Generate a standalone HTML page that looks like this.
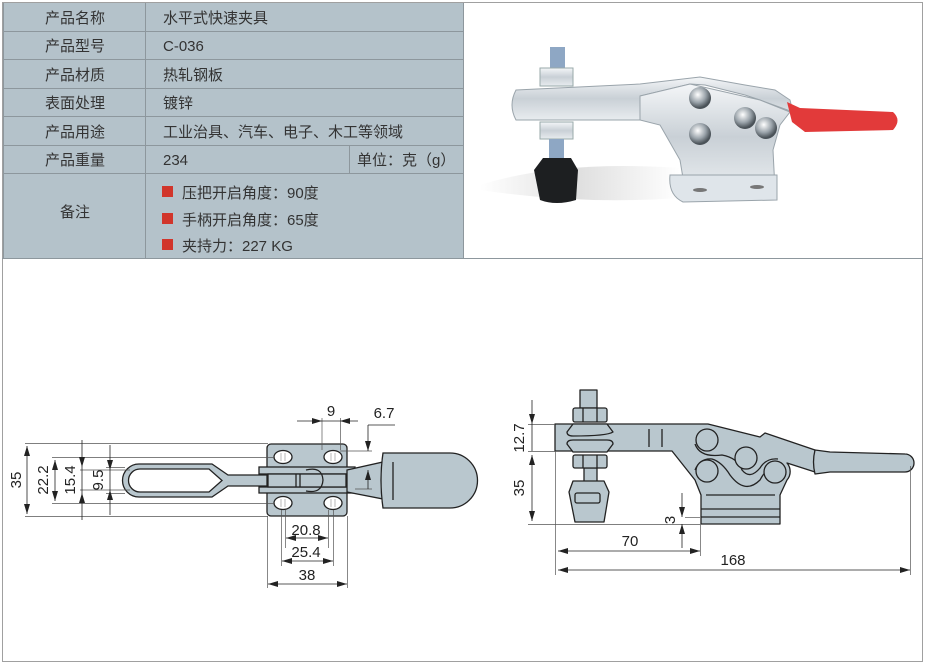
<!DOCTYPE html>
<html><head><meta charset="utf-8"><style>
html,body{margin:0;padding:0;background:#fff;}
svg{display:block;}
text{font-family:"Liberation Sans","Noto Sans CJK SC",sans-serif;}
</style></head><body>
<svg width="926" height="665" viewBox="0 0 926 665" xmlns="http://www.w3.org/2000/svg">
<defs>
<linearGradient id="met" x1="0" y1="0" x2="0" y2="1"><stop offset="0" stop-color="#f4f6f8"/><stop offset="0.5" stop-color="#c9d0d6"/><stop offset="1" stop-color="#e8ecef"/></linearGradient>
<radialGradient id="ball" cx="0.4" cy="0.35" r="0.6"><stop offset="0" stop-color="#fff"/><stop offset="0.6" stop-color="#9aa3aa"/><stop offset="1" stop-color="#4a5258"/></radialGradient>
<linearGradient id="shadow" x1="0" y1="0" x2="1" y2="0"><stop offset="0" stop-color="#fff"/><stop offset="0.5" stop-color="#d8d8d8"/><stop offset="1" stop-color="#fff"/></linearGradient>
<marker id="ar" viewBox="0 0 10 6" refX="10" refY="3" markerWidth="10" markerHeight="6" orient="auto-start-reverse" markerUnits="userSpaceOnUse"><path d="M0,0 L10,3 L0,6 z" fill="#222"/></marker>
</defs>
<rect x="2.5" y="2.5" width="920" height="659" fill="#fff" stroke="#a0a0a0"/>
<rect x="3" y="3" width="460" height="255" fill="#b4c2ca"/>
<g stroke="#8d979d" stroke-width="1">
<line x1="3" y1="31.5" x2="463" y2="31.5"/><line x1="3" y1="59.5" x2="463" y2="59.5"/><line x1="3" y1="88.5" x2="463" y2="88.5"/><line x1="3" y1="116.5" x2="463" y2="116.5"/><line x1="3" y1="145.5" x2="463" y2="145.5"/><line x1="3" y1="173.5" x2="463" y2="173.5"/>
<line x1="145.5" y1="3" x2="145.5" y2="258"/><line x1="349.5" y1="145" x2="349.5" y2="173"/>
<line x1="463.5" y1="3" x2="463.5" y2="258"/><line x1="3.5" y1="3" x2="3.5" y2="258"/>
<line x1="2" y1="258.5" x2="923" y2="258.5"/>
</g>
<g font-size="15" fill="#333">
<text x="75" y="23" text-anchor="middle">产品名称</text>
<text x="75" y="51" text-anchor="middle">产品型号</text>
<text x="75" y="80" text-anchor="middle">产品材质</text>
<text x="75" y="108" text-anchor="middle">表面处理</text>
<text x="75" y="137" text-anchor="middle">产品用途</text>
<text x="75" y="165" text-anchor="middle">产品重量</text>
<text x="75" y="217" text-anchor="middle">备注</text>
<text x="163" y="23">水平式快速夹具</text>
<text x="163" y="51">C-036</text>
<text x="163" y="80">热轧钢板</text>
<text x="163" y="108">镀锌</text>
<text x="163" y="137">工业治具、汽车、电子、木工等领域</text>
<text x="163" y="165">234</text>
<text x="357" y="165">单位：克（g）</text>
<text x="182" y="198">压把开启角度：90度</text>
<text x="182" y="225">手柄开启角度：65度</text>
<text x="182" y="251">夹持力：227 KG</text>
</g>
<g fill="#d1352b"><rect x="162" y="186" width="11" height="11"/><rect x="162" y="213" width="11" height="11"/><rect x="162" y="239" width="11" height="11"/></g>
<!-- photo -->
<path d="M480,185 Q560,160 680,168 L680,198 Q580,205 480,190z" fill="url(#shadow)" opacity="0.8"/>
<rect x="550" y="47" width="15" height="22" fill="#8ea7c4"/>
<rect x="540" y="68" width="33" height="18" fill="url(#met)" stroke="#9aa"/>
<path d="M516,90 L640,84 L700,77 L745,85 L775,90 L790,100 L793,112 L760,100 L745,95 L705,85 L690,84 L640,96 L640,120 L516,120 Q508,105 516,90z" fill="url(#met)" stroke="#9aa4ab"/>
<path d="M640,96 L690,84 L760,100 L790,112 L780,125 L773,150 L775,190 L685,190 L680,160 L660,125 L640,120z" fill="url(#met)" stroke="#9aa4ab"/>
<path d="M670,175 L777,175 L777,200 L683,202 Q668,195 670,175z" fill="#dfe5ea" stroke="#9aa4ab"/>
<ellipse cx="700" cy="190" rx="7" ry="2" fill="#777"/><ellipse cx="757" cy="187" rx="7" ry="2" fill="#777"/>
<circle cx="700" cy="98" r="11" fill="url(#ball)"/><circle cx="745" cy="118" r="11" fill="url(#ball)"/>
<circle cx="700" cy="134" r="11" fill="url(#ball)"/><circle cx="766" cy="128" r="11" fill="url(#ball)"/>
<path d="M787,102 L800,108 L893,112 Q902,120 893,130 L805,132 L792,122z" fill="#e23a3a"/>
<rect x="540" y="122" width="33" height="17" fill="url(#met)" stroke="#9aa"/>
<rect x="549" y="139" width="15" height="20" fill="#8ea7c4"/>
<path d="M543,158 L571,158 L578,170 L576,200 Q556,206 540,200 L534,170z" fill="#1d1f21"/>
<!-- top view -->
<g stroke="#222" stroke-width="1.3" fill="#b9c7ce">
<path d="M139,464 L212,464 L228,475 L300,475 L300,486 L228,486 L212,497 L139,497 A16.5,16.5 0 0 1 139,464z"/>
<path d="M140,469 L209,469 L222,480.5 L209,492 L140,492 A11.5,11.5 0 0 1 140,469z" fill="#fff"/>
<rect x="267" y="444" width="80" height="72" rx="4"/>
<rect x="259" y="467" width="96" height="7"/>
<rect x="259" y="487" width="96" height="6"/>
<rect x="268" y="474" width="78" height="13"/>
<line x1="296" y1="474" x2="296" y2="487"/><line x1="300" y1="474" x2="300" y2="487"/>
<path d="M306,470 Q322,466 323,480 Q322,494 306,491" fill="none"/>
<path d="M347,470 L383,462 L383,499 L347,492z"/>
<path d="M383,453 L450,453 A27.5,27.5 0 0 1 450,508 L383,508 Q379,480 383,453z"/>
<line x1="393" y1="462" x2="393" y2="500"/>
<g fill="#fff">
<ellipse cx="283" cy="457" rx="9" ry="6.5"/><ellipse cx="333" cy="457" rx="9" ry="6.5"/>
<ellipse cx="283" cy="503" rx="9" ry="6.5"/><ellipse cx="333" cy="503" rx="9" ry="6.5"/>
</g>
</g>
<g stroke="#888" stroke-width="0.6" fill="none">
<line x1="281" y1="453" x2="281" y2="461"/><line x1="285" y1="453" x2="285" y2="461"/><line x1="331" y1="453" x2="331" y2="461"/><line x1="335" y1="453" x2="335" y2="461"/>
<line x1="281" y1="499" x2="281" y2="507"/><line x1="285" y1="499" x2="285" y2="507"/><line x1="331" y1="499" x2="331" y2="507"/><line x1="335" y1="499" x2="335" y2="507"/>
</g>
<g stroke="#555" stroke-width="0.7" fill="none">
<line x1="25" y1="443.5" x2="268" y2="443.5"/><line x1="25" y1="516.5" x2="268" y2="516.5"/>
<line x1="52" y1="457.5" x2="275" y2="457.5"/><line x1="52" y1="503.5" x2="275" y2="503.5"/>
<line x1="80" y1="470" x2="130" y2="470"/><line x1="80" y1="490" x2="130" y2="490"/>
<line x1="106" y1="467.5" x2="125" y2="467.5"/><line x1="106" y1="493.5" x2="125" y2="493.5"/>
<line x1="322" y1="418" x2="322" y2="450"/><line x1="340.5" y1="418" x2="340.5" y2="450"/>
<line x1="340" y1="451" x2="372" y2="451"/><line x1="355" y1="489" x2="372" y2="489"/>
<line x1="285.5" y1="510" x2="285.5" y2="548"/><line x1="328.5" y1="510" x2="328.5" y2="548"/>
<line x1="281.5" y1="510" x2="281.5" y2="566"/><line x1="333.5" y1="510" x2="333.5" y2="566"/>
<line x1="267.5" y1="516" x2="267.5" y2="588"/><line x1="347.5" y1="516" x2="347.5" y2="588"/>
</g>
<g stroke="#222" stroke-width="0.8" fill="none">
<line x1="27" y1="446" x2="27" y2="514" marker-start="url(#ar)" marker-end="url(#ar)"/>
<line x1="55" y1="460" x2="55" y2="501" marker-start="url(#ar)" marker-end="url(#ar)"/>
<line x1="82" y1="440" x2="82" y2="467" marker-end="url(#ar)"/><line x1="82" y1="520" x2="82" y2="493" marker-end="url(#ar)"/><line x1="82" y1="467" x2="82" y2="493"/>
<line x1="110" y1="445" x2="110" y2="470" marker-end="url(#ar)"/><line x1="110" y1="515" x2="110" y2="490" marker-end="url(#ar)"/><line x1="110" y1="470" x2="110" y2="490"/>
<line x1="297" y1="421" x2="322" y2="421" marker-end="url(#ar)"/><line x1="358" y1="421" x2="340" y2="421" marker-end="url(#ar)"/><line x1="322" y1="421" x2="340" y2="421"/>
<line x1="368" y1="425" x2="395" y2="425"/>
<line x1="368" y1="425" x2="368" y2="451" marker-end="url(#ar)"/><line x1="368" y1="489" x2="368" y2="470" marker-end="url(#ar)"/>
<line x1="286" y1="538" x2="328" y2="538" marker-start="url(#ar)" marker-end="url(#ar)"/>
<line x1="282" y1="561" x2="333" y2="561" marker-start="url(#ar)" marker-end="url(#ar)"/>
<line x1="268" y1="584" x2="347" y2="584" marker-start="url(#ar)" marker-end="url(#ar)"/>
</g>
<g font-size="15" fill="#222">
<text x="25" y="480" text-anchor="middle" transform="rotate(-90 25 480)" dy="-4">35</text>
<text x="52" y="480" text-anchor="middle" transform="rotate(-90 52 480)" dy="-4">22.2</text>
<text x="79" y="480" text-anchor="middle" transform="rotate(-90 79 480)" dy="-4">15.4</text>
<text x="107" y="480" text-anchor="middle" transform="rotate(-90 107 480)" dy="-4">9.5</text>
<text x="331" y="416" text-anchor="middle">9</text>
<text x="384" y="418" text-anchor="middle">6.7</text>
<text x="306" y="535" text-anchor="middle">20.8</text>
<text x="306" y="557" text-anchor="middle">25.4</text>
<text x="307" y="580" text-anchor="middle">38</text>
</g>
<!-- side view -->
<g stroke="#222" stroke-width="1.3" fill="#b9c7ce" stroke-linejoin="round">
<rect x="580" y="390" width="17" height="18"/>
<rect x="573" y="408" width="34" height="14" rx="2"/>
<line x1="583" y1="408" x2="583" y2="422"/><line x1="597" y1="408" x2="597" y2="422"/>
<rect x="584" y="468" width="13" height="25"/>
<path d="M555,424 L708,424 L760,437 L765,433 L815,450 L815,472 L787,463 A13,13 0 0 1 787,480 L780,495 L780,524 L701,524 L701,495 L695,480 L672,451 L555,451z"/>
<line x1="706" y1="495" x2="775" y2="495"/>
<line x1="701" y1="509" x2="780" y2="509"/><line x1="701" y1="517" x2="780" y2="517"/>
<path d="M695,444 Q700,458 722,455 Q738,458 742,470 Q750,480 760,468 Q766,458 778,459" fill="none"/>
<path d="M695,470 Q700,458 712,459 Q722,462 730,475 Q745,495 760,480 Q768,465 780,463" fill="none"/>
<circle cx="707" cy="440" r="11"/><circle cx="746" cy="458" r="11"/>
<circle cx="707" cy="471" r="11"/><circle cx="775" cy="472" r="11"/>
<path d="M815,450 L830,452 L905,454 A9,9 0 0 1 905,472 L830,472 L815,474 Q812,462 815,450z"/>
<path d="M567,432 L573,424 L607,424 L613,432 Q607,436 573,436 Q567,436 567,432z"/>
<path d="M567,444 Q567,440 573,440 L607,440 Q613,440 613,444 L607,452 L573,452z"/>
<rect x="573" y="455" width="34" height="13" rx="2"/>
<line x1="583" y1="455" x2="583" y2="468"/><line x1="597" y1="455" x2="597" y2="468"/>
<path d="M573,481 L604,481 L609,492 L604,522 L575,522 L569,492z"/>
<rect x="575" y="493" width="25" height="10" rx="2"/>
</g>
<g stroke="#222" stroke-width="1.3">
<line x1="649" y1="429" x2="649" y2="447"/><line x1="662" y1="429" x2="662" y2="447"/>
</g>
<g stroke="#555" stroke-width="0.7" fill="none">
<line x1="528" y1="424.5" x2="555" y2="424.5"/><line x1="528" y1="451.5" x2="555" y2="451.5"/>
<line x1="528" y1="524.5" x2="700" y2="524.5"/><line x1="685" y1="517.5" x2="700" y2="517.5"/>
<line x1="555.5" y1="451" x2="555.5" y2="575"/><line x1="700.5" y1="524" x2="700.5" y2="556"/>
<line x1="910.5" y1="466" x2="910.5" y2="575"/>
</g>
<g stroke="#222" stroke-width="0.8" fill="none">
<line x1="532" y1="400" x2="532" y2="424" marker-end="url(#ar)"/><line x1="532" y1="424" x2="532" y2="451"/>
<line x1="532" y1="455" x2="532" y2="521" marker-start="url(#ar)" marker-end="url(#ar)"/>
<line x1="682" y1="493" x2="682" y2="517" marker-end="url(#ar)"/><line x1="682" y1="548" x2="682" y2="524" marker-end="url(#ar)"/>
<line x1="558" y1="551" x2="700" y2="551" marker-start="url(#ar)" marker-end="url(#ar)"/>
<line x1="558" y1="570" x2="910" y2="570" marker-start="url(#ar)" marker-end="url(#ar)"/>
</g>
<g font-size="15" fill="#222">
<text x="528" y="438" text-anchor="middle" transform="rotate(-90 528 438)" dy="-4">12.7</text>
<text x="528" y="488" text-anchor="middle" transform="rotate(-90 528 488)" dy="-4">35</text>
<text x="679" y="520" text-anchor="middle" transform="rotate(-90 679 520)" dy="-4">3</text>
<text x="630" y="546" text-anchor="middle">70</text>
<text x="733" y="565" text-anchor="middle">168</text>
</g>
</svg>
</body></html>
